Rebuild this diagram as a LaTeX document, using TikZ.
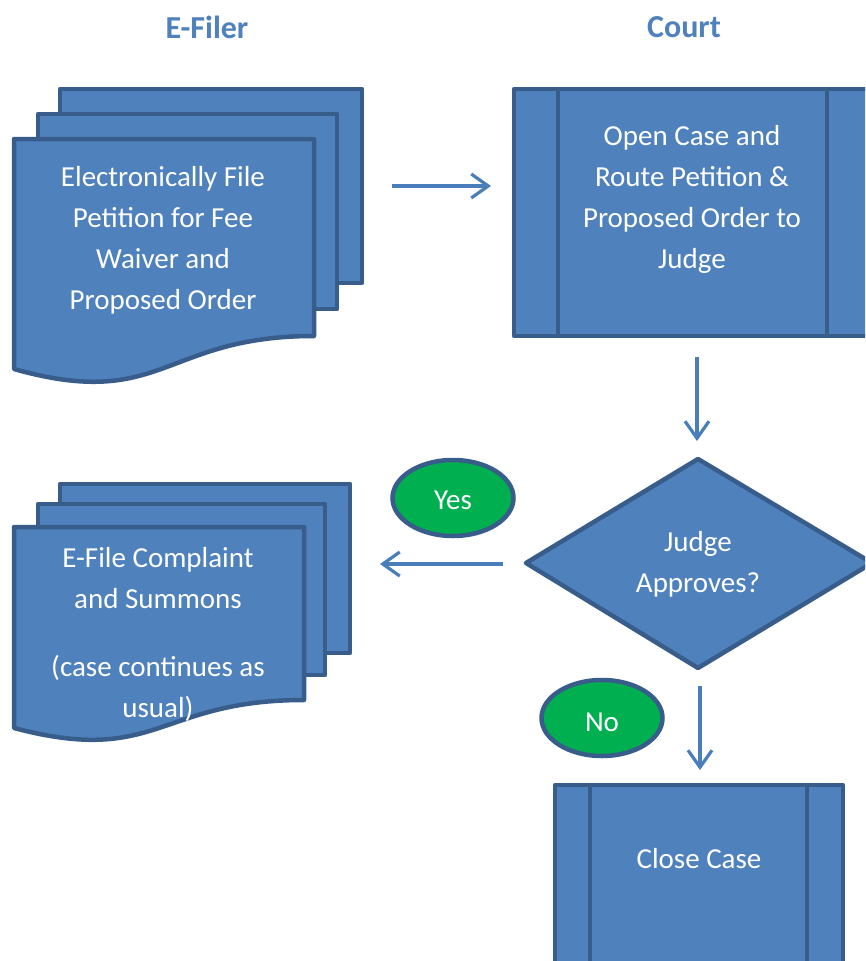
\documentclass[tikz,border=0pt]{standalone}
\usepackage{fontspec}
\setmainfont{Carlito}
\usetikzlibrary{arrows.meta,shapes.geometric}
\definecolor{fillblue}{HTML}{4F81BD}
\definecolor{edgeblue}{HTML}{385D8A}
\definecolor{arrowblue}{HTML}{4A7EBB}
\definecolor{okgreen}{HTML}{00B050}
\begin{document}
\begin{tikzpicture}[x=1pt,y=-1pt,
  shapebox/.style={fill=fillblue,draw=edgeblue,line width=4.5pt,line join=round},
  bandline/.style={draw=edgeblue,line width=4.5pt},
  lbl/.style={text=white,font=\fontsize{29}{41}\selectfont,align=center,inner sep=0pt},
  conn/.style={draw=arrowblue,line width=3.2pt,-{Straight Barb[length=17pt,width=24pt,line width=3.2pt]}},
  badge/.style={ellipse,fill=okgreen,draw=edgeblue,line width=4.5pt,minimum width=121pt,minimum height=76pt,inner sep=0pt,text=white,font=\fontsize{29}{33}\selectfont},
  heading/.style={text=fillblue,font=\bfseries\fontsize{32}{36}\selectfont}]
\useasboundingbox (0,0) rectangle (865,961);
\clip (0,0) rectangle (865,961);
\fill[white] (0,0) rectangle (865,961);

% headings
\node[heading] (hfiler) at (207,27) {E-Filer};
\node[heading] (hcourt) at (684,27) {Court};

% multidocument 1
\path[shapebox] (60,89) rectangle (362,283);
\path[shapebox] (38,114) rectangle (337,309);
\path[shapebox] (14,139) -- (314,139) -- (314,336)
  .. controls (163,336) and (163,411) .. (14,369) -- cycle;
\node[lbl] (filepet) at (163,240) {Electronically File\\Petition for Fee\\Waiver and\\Proposed Order};

% court process box
\path[shapebox] (514,89) rectangle (875,336);
\draw[bandline] (558,89) -- (558,336);
\draw[bandline] (827,89) -- (827,336);
\node[lbl] (opencase) at (692,199) {Open Case and\\Route Petition \&\\Proposed Order to\\Judge};

% diamond
\path[shapebox] (526,563) -- (698,459) -- (872,563) -- (698,668) -- cycle;
\node[lbl] (judge) at (698,564) {Judge\\Approves?};

% multidocument 2
\path[shapebox] (60,484) rectangle (350,653);
\path[shapebox] (38,504) rectangle (325,675);
\path[shapebox] (14,527) -- (304,527) -- (304,700)
  .. controls (158,700) and (158,766) .. (14,728) -- cycle;
\node[lbl] (efile) at (158,634) {E-File Complaint\\and Summons\\[27pt](case continues as\\usual)};

% close case box
\path[shapebox] (555,785) rectangle (843,995);
\draw[bandline] (590,785) -- (590,995);
\draw[bandline] (807,785) -- (807,995);
\node[lbl] (closecase) at (699,859) {Close Case};

% badges
\node[badge] (yes) at (453,498) {\raisebox{-11pt}[0pt][0pt]{Yes}};
\node[badge] (no) at (602,718) {\raisebox{-13pt}[0pt][0pt]{No}};

% connector end points
\coordinate (a1s) at (392,186);
\coordinate (a1e) at (491,186);
\coordinate (a2s) at (697,357);
\coordinate (a2e) at (697,441);
\coordinate (a3s) at (503,564);
\coordinate (a3e) at (380,564);
\coordinate (a4s) at (700,686);
\coordinate (a4e) at (700,770);

\draw[conn] (a1s) -- (a1e);
\draw[conn] (a2s) -- (a2e);
\draw[conn] (a3s) -- (a3e);
\draw[conn] (a4s) -- (a4e);
\end{tikzpicture}
\end{document}
